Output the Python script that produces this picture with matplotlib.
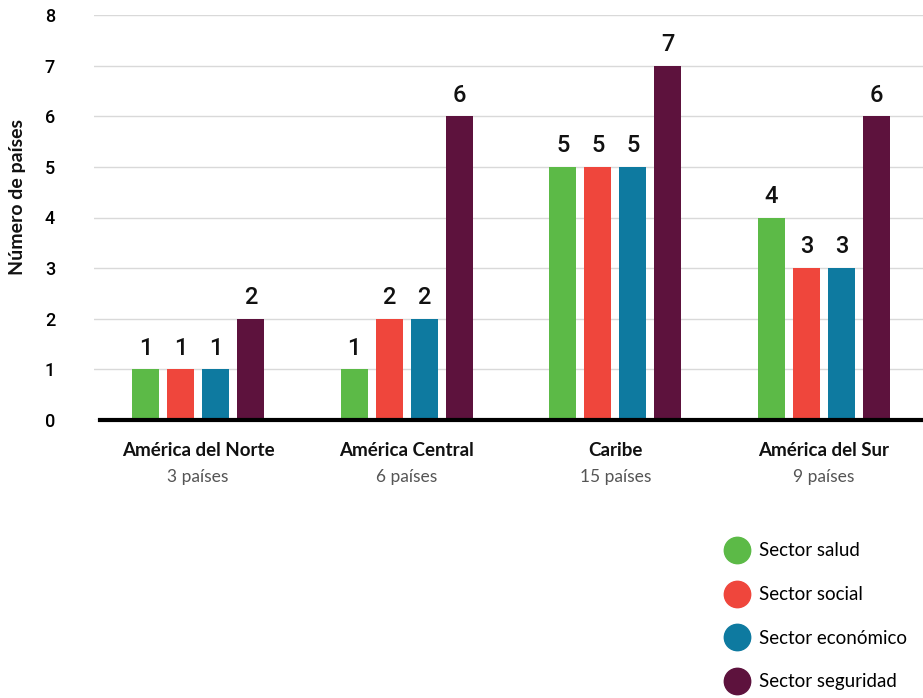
import matplotlib
matplotlib.use("Agg")
import matplotlib.pyplot as plt
from matplotlib.lines import Line2D
import numpy as np

regions = ["América del Norte", "América Central", "Caribe", "América del Sur"]
subtitles = ["3 países", "6 países", "15 países", "9 países"]
series = ["Sector salud", "Sector social", "Sector económico", "Sector seguridad"]
salud = [1, 1, 5, 4]
social = [1, 2, 5, 3]
economico = [1, 2, 5, 3]
seguridad = [2, 6, 7, 6]
yticks = [0, 1, 2, 3, 4, 5, 6, 7, 8]
colors = ["#5cba47", "#ef463c", "#0e7aa0", "#5d123d"]

W, H = 923, 698
fig = plt.figure(figsize=(W / 100, H / 100), dpi=100)
ax_l, ax_r, ax_t, ax_b = 94, 923, 15, 420
ax = fig.add_axes([ax_l / W, 1 - ax_b / H, (ax_r - ax_l) / W, (ax_b - ax_t) / H])

x = np.arange(len(regions))
width = 0.129
offset = 0.168
data = [salud, social, economico, seguridad]
for i, (vals, c) in enumerate(zip(data, colors)):
    pos = x + (i - 1.5) * offset
    ax.bar(pos, vals, width=width, color=c, zorder=3)
    for p, v in zip(pos, vals):
        ax.annotate(str(v), (p, v), xytext=(0, 7), textcoords="offset points",
                    ha="center", va="bottom", fontsize=17, fontweight="medium",
                    family=["Roboto", "DejaVu Sans"], color="#111111")

ax.set_xlim(-0.498, 3.474)
ax.set_ylim(0, 8)
ax.set_yticks(yticks)
ax.set_yticklabels([str(t) for t in yticks], fontsize=13, fontweight="medium",
                   family=["Roboto", "DejaVu Sans"])
ax.tick_params(axis="y", length=0, pad=28)
ax.set_xticks([])
ax.grid(axis="y", color="#d9d9d9", linewidth=1, zorder=0)
for s in ax.spines.values():
    s.set_visible(False)
ax.axhline(0, xmin=(100 - ax_l) / (ax_r - ax_l), xmax=1, color="black", linewidth=3, zorder=4, clip_on=False)

for xi, (r, s) in enumerate(zip(regions, subtitles)):
    ax.annotate(r, (xi, 0), xytext=(0, -22), textcoords="offset points", ha="center", va="center",
                fontsize=13.5, fontweight="bold", family=["Lato", "DejaVu Sans"], color="#111111",
                annotation_clip=False)
    ax.annotate(s, (xi, 0), xytext=(0, -41), textcoords="offset points", ha="center", va="center",
                fontsize=12.5, family=["Lato", "DejaVu Sans"], color="#555555",
                annotation_clip=False)

fig.text(18 / W, 1 - 197 / H, "Número de países", rotation=90, ha="center", va="center",
         fontsize=14, fontweight="bold", family=["Lato", "DejaVu Sans"], color="#111111")

handles = [Line2D([0], [0], marker="o", linestyle="none", markersize=19,
                  markerfacecolor=c, markeredgecolor=c) for c in colors]
leg = fig.legend(handles, series, loc="upper left", bbox_to_anchor=(719 / W, 1 - 535 / H),
                 frameon=False, prop={"family": ["Lato", "DejaVu Sans"], "size": 13.5},
                 labelspacing=1.42, handletextpad=0.65, handlelength=1.1, borderaxespad=0)

fig.savefig("out.png", dpi=100)
